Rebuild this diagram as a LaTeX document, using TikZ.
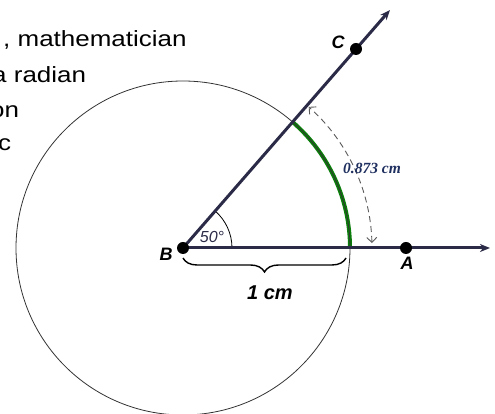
\documentclass[tikz,border=0pt]{standalone}
\usepackage{fontspec}
\setmainfont{Liberation Sans}
\newfontfamily\serifb{Liberation Serif}
\usetikzlibrary{arrows.meta,decorations.pathreplacing,calc}
\definecolor{raycol}{HTML}{2B2B48}
\definecolor{arcgreen}{HTML}{0A7D0A}
\definecolor{lblblue}{HTML}{1F2F5F}
\begin{document}
\begin{tikzpicture}[x=1pt,y=1pt,
  ray/.style={draw=raycol,line width=3pt,-{Stealth[length=10pt,width=8pt,inset=3pt]}},
  ptdot/.style={circle,fill=black,inner sep=0pt,minimum size=12pt},
  ptlabel/.style={font=\fontsize{18}{18}\selectfont\bfseries\itshape,text=black,inner sep=0pt},
  toptext/.style={font=\fontsize{22}{22}\selectfont,anchor=base west,inner sep=0pt,xscale=1.18},
  dasharc/.style={draw=black!65,line width=0.9pt,dash pattern=on 6pt off 4pt,
     {Straight Barb[length=5pt,width=10pt]}-{Straight Barb[length=5pt,width=10pt]}}]
\useasboundingbox (0,0) rectangle (495,414);
% text lines (cut at the left edge, as in the reference)
\node[toptext] (t1) at (3,367) {, mathematician};
\node[toptext] (t2) at (-8,331) {a radian};
\node[toptext] (t3) at (-10,296) {on};
\node[toptext] (t4) at (-2,263) {c};
% geometry
\coordinate (B) at (183,166);
\coordinate (Atip) at (490,166);
\coordinate (Ctip) at (390,404);
% green arc and circle
\draw[arcgreen,line width=4pt] (B) ++(0:167) arc[start angle=0,end angle=49,radius=167];
\draw[black!80,line width=0.8pt] (B) circle[radius=167];
% angle arc
\draw[black,line width=0.8pt] (B) ++(0:49) arc[start angle=0,end angle=49,radius=49];
% rays
\draw[ray] (B) -- (Atip);
\draw[ray] (B) -- (Ctip);
% dashed arc
\draw[dasharc] (B) ++(1.5:189) arc[start angle=1.5,end angle=48.3,radius=189];
% dots
\node[ptdot] (Bd) at (B) {};
\node[ptdot] (Ad) at (406,166) {};
\node[ptdot] (Cd) at (356,365) {};
% labels
\node[ptlabel] (Bl) at (166,160) {B};
\node[ptlabel] (Al) at (407,151) {A};
\node[ptlabel] (Cl) at (338,371.5) {C};
\node[font=\fontsize{16}{16}\selectfont\itshape,text=raycol,inner sep=0pt] (ang) at (212,177) {50°};
\node[font=\serifb\fontsize{15.5}{15.5}\selectfont\bfseries\itshape,text=lblblue,inner sep=0pt] (len) at (372,246) {0.873 cm};
% brace
\draw[black,line width=1.4pt,decorate,decoration={brace,amplitude=14pt,mirror}] (183,156) -- (346,156);
\node[font=\fontsize{20}{20}\selectfont\bfseries\itshape,inner sep=0pt] (one) at (270,121) {1 cm};
\end{tikzpicture}
\end{document}
